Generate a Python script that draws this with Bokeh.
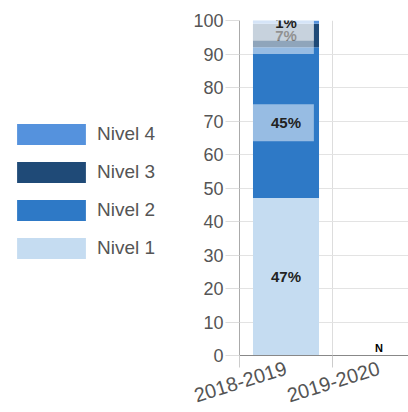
from bokeh.plotting import figure
from bokeh.layouts import row
from bokeh.models import Range1d, FixedTicker, Legend, LegendItem, ColumnDataSource
from bokeh.embed import file_html
from bokeh.resources import INLINE
from bokeh.core.properties import value

# ---- data ----
years = ["2018-2019", "2019-2020"]
levels = ["Nivel 1", "Nivel 2", "Nivel 3", "Nivel 4"]
nivel1 = [47, 0]
nivel2 = [45, 0]
nivel3 = [7, 0]
nivel4 = [1, 0]
notes = ["", "N"]
y_ticks = [0, 10, 20, 30, 40, 50, 60, 70, 80, 90, 100]

# ---- style ----
colors = ["#C5DCF1", "#2E79C6", "#1F4A77", "#5592DD"]
FONT = "Liberation Sans"
BAR_W = 0.71
GREY_TXT = "#555555"
LEG_W = 170

xs = [i + 0.5 for i in range(len(years))]
series = [nivel1, nivel2, nivel3, nivel4]
src = ColumnDataSource(dict(x=xs, **{lv: s for lv, s in zip(levels, series)}))

p = figure(width=408 - LEG_W, height=412,
           min_border_left=239 - LEG_W, min_border_right=0, min_border_top=20, min_border_bottom=57,
           x_range=Range1d(0, 1.817), y_range=Range1d(0, 100),
           output_backend="svg", toolbar_location=None)
p.outline_line_color = None
p.background_fill_color = "white"

rends = p.vbar_stack(levels, x="x", width=BAR_W, color=colors, source=src, line_color=None)

# percentage annotations
def lum(hexc):
    r, g, b = int(hexc[1:3], 16), int(hexc[3:5], 16), int(hexc[5:7], 16)
    return 0.299 * r + 0.587 * g + 0.114 * b

for ci, xc in enumerate(xs):
    bottom = 0
    for si, s in enumerate(series):
        v = s[ci]
        if v <= 0:
            continue
        mid = bottom + v / 2
        if lum(colors[si]) < 180:
            p.rect(x=[xc - BAR_W * 0.04], y=[mid], width=61, height=37,
                   width_units="screen", height_units="screen",
                   fill_color="white", fill_alpha=0.5, line_color=None)
        p.text(x=[xc], y=[mid], text=[f"{v}%"], text_align="center",
               text_baseline="middle", text_font=value(FONT),
               text_font_style="bold", text_font_size="15px", text_color="#222222")
        bottom += v
    if notes[ci]:
        p.text(x=[xc], y=[0], text=[notes[ci]], text_align="center",
               text_baseline="bottom", y_offset=-2, text_font=value(FONT),
               text_font_style="bold", text_font_size="11px", text_color="#000000")

# axes
p.yaxis.ticker = FixedTicker(ticks=y_ticks)
p.yaxis.major_label_text_font = FONT
p.yaxis.major_label_text_font_size = "18px"
p.yaxis.major_label_text_color = GREY_TXT
p.yaxis.major_tick_out = 14
p.yaxis.major_tick_in = 0
p.yaxis.major_tick_line_color = "#dddddd"
p.yaxis.minor_tick_line_color = None
p.yaxis.axis_line_color = "#aaaaaa"
p.yaxis.major_label_standoff = 2

p.xaxis.ticker = FixedTicker(ticks=xs, minor_ticks=[0, 1, 2])
p.xaxis.major_label_overrides = {x: y for x, y in zip(xs, years)}
p.xaxis.major_label_orientation = 0.30
p.xaxis.major_label_text_font = FONT
p.xaxis.major_label_text_font_size = "20px"
p.xaxis.major_label_text_color = GREY_TXT
p.xaxis.major_tick_line_color = None
p.xaxis.major_tick_out = 0
p.xaxis.major_tick_in = 0
p.xaxis.minor_tick_out = 12
p.xaxis.minor_tick_in = 0
p.xaxis.minor_tick_line_color = "#cccccc"
p.xaxis.axis_line_color = "#888888"
p.xaxis.major_label_standoff = 0

p.xgrid.ticker = FixedTicker(ticks=[0, 1, 2])
p.xgrid.grid_line_color = "#dddddd"
p.ygrid.grid_line_color = "#e3e3e3"

# legend in its own panel figure (swatch glyphs drawn off-range)
lf = figure(width=LEG_W, height=412, min_border=0,
            x_range=Range1d(0, 1), y_range=Range1d(0, 1),
            output_backend="svg", toolbar_location=None)
lf.axis.visible = False
lf.grid.visible = False
lf.outline_line_color = None
leg_rends = [lf.rect(x=[-5], y=[-5], width=0.1, height=0.1, color=c, line_color=None)
             for c in colors]
legend = Legend(items=[LegendItem(label=lv, renderers=[r]) for lv, r in
                       reversed(list(zip(levels, leg_rends)))],
                location=(8, 94))
legend.glyph_width = 86
legend.glyph_height = 26
legend.label_height = 26
legend.spacing = 12
legend.label_standoff = 3
legend.padding = 0
legend.margin = 0
legend.border_line_color = None
legend.background_fill_alpha = 0
legend.label_text_font = FONT
legend.label_text_font_size = "19px"
legend.label_text_color = GREY_TXT
lf.add_layout(legend)

open("out.html", "w").write(file_html(row(lf, p), INLINE))
